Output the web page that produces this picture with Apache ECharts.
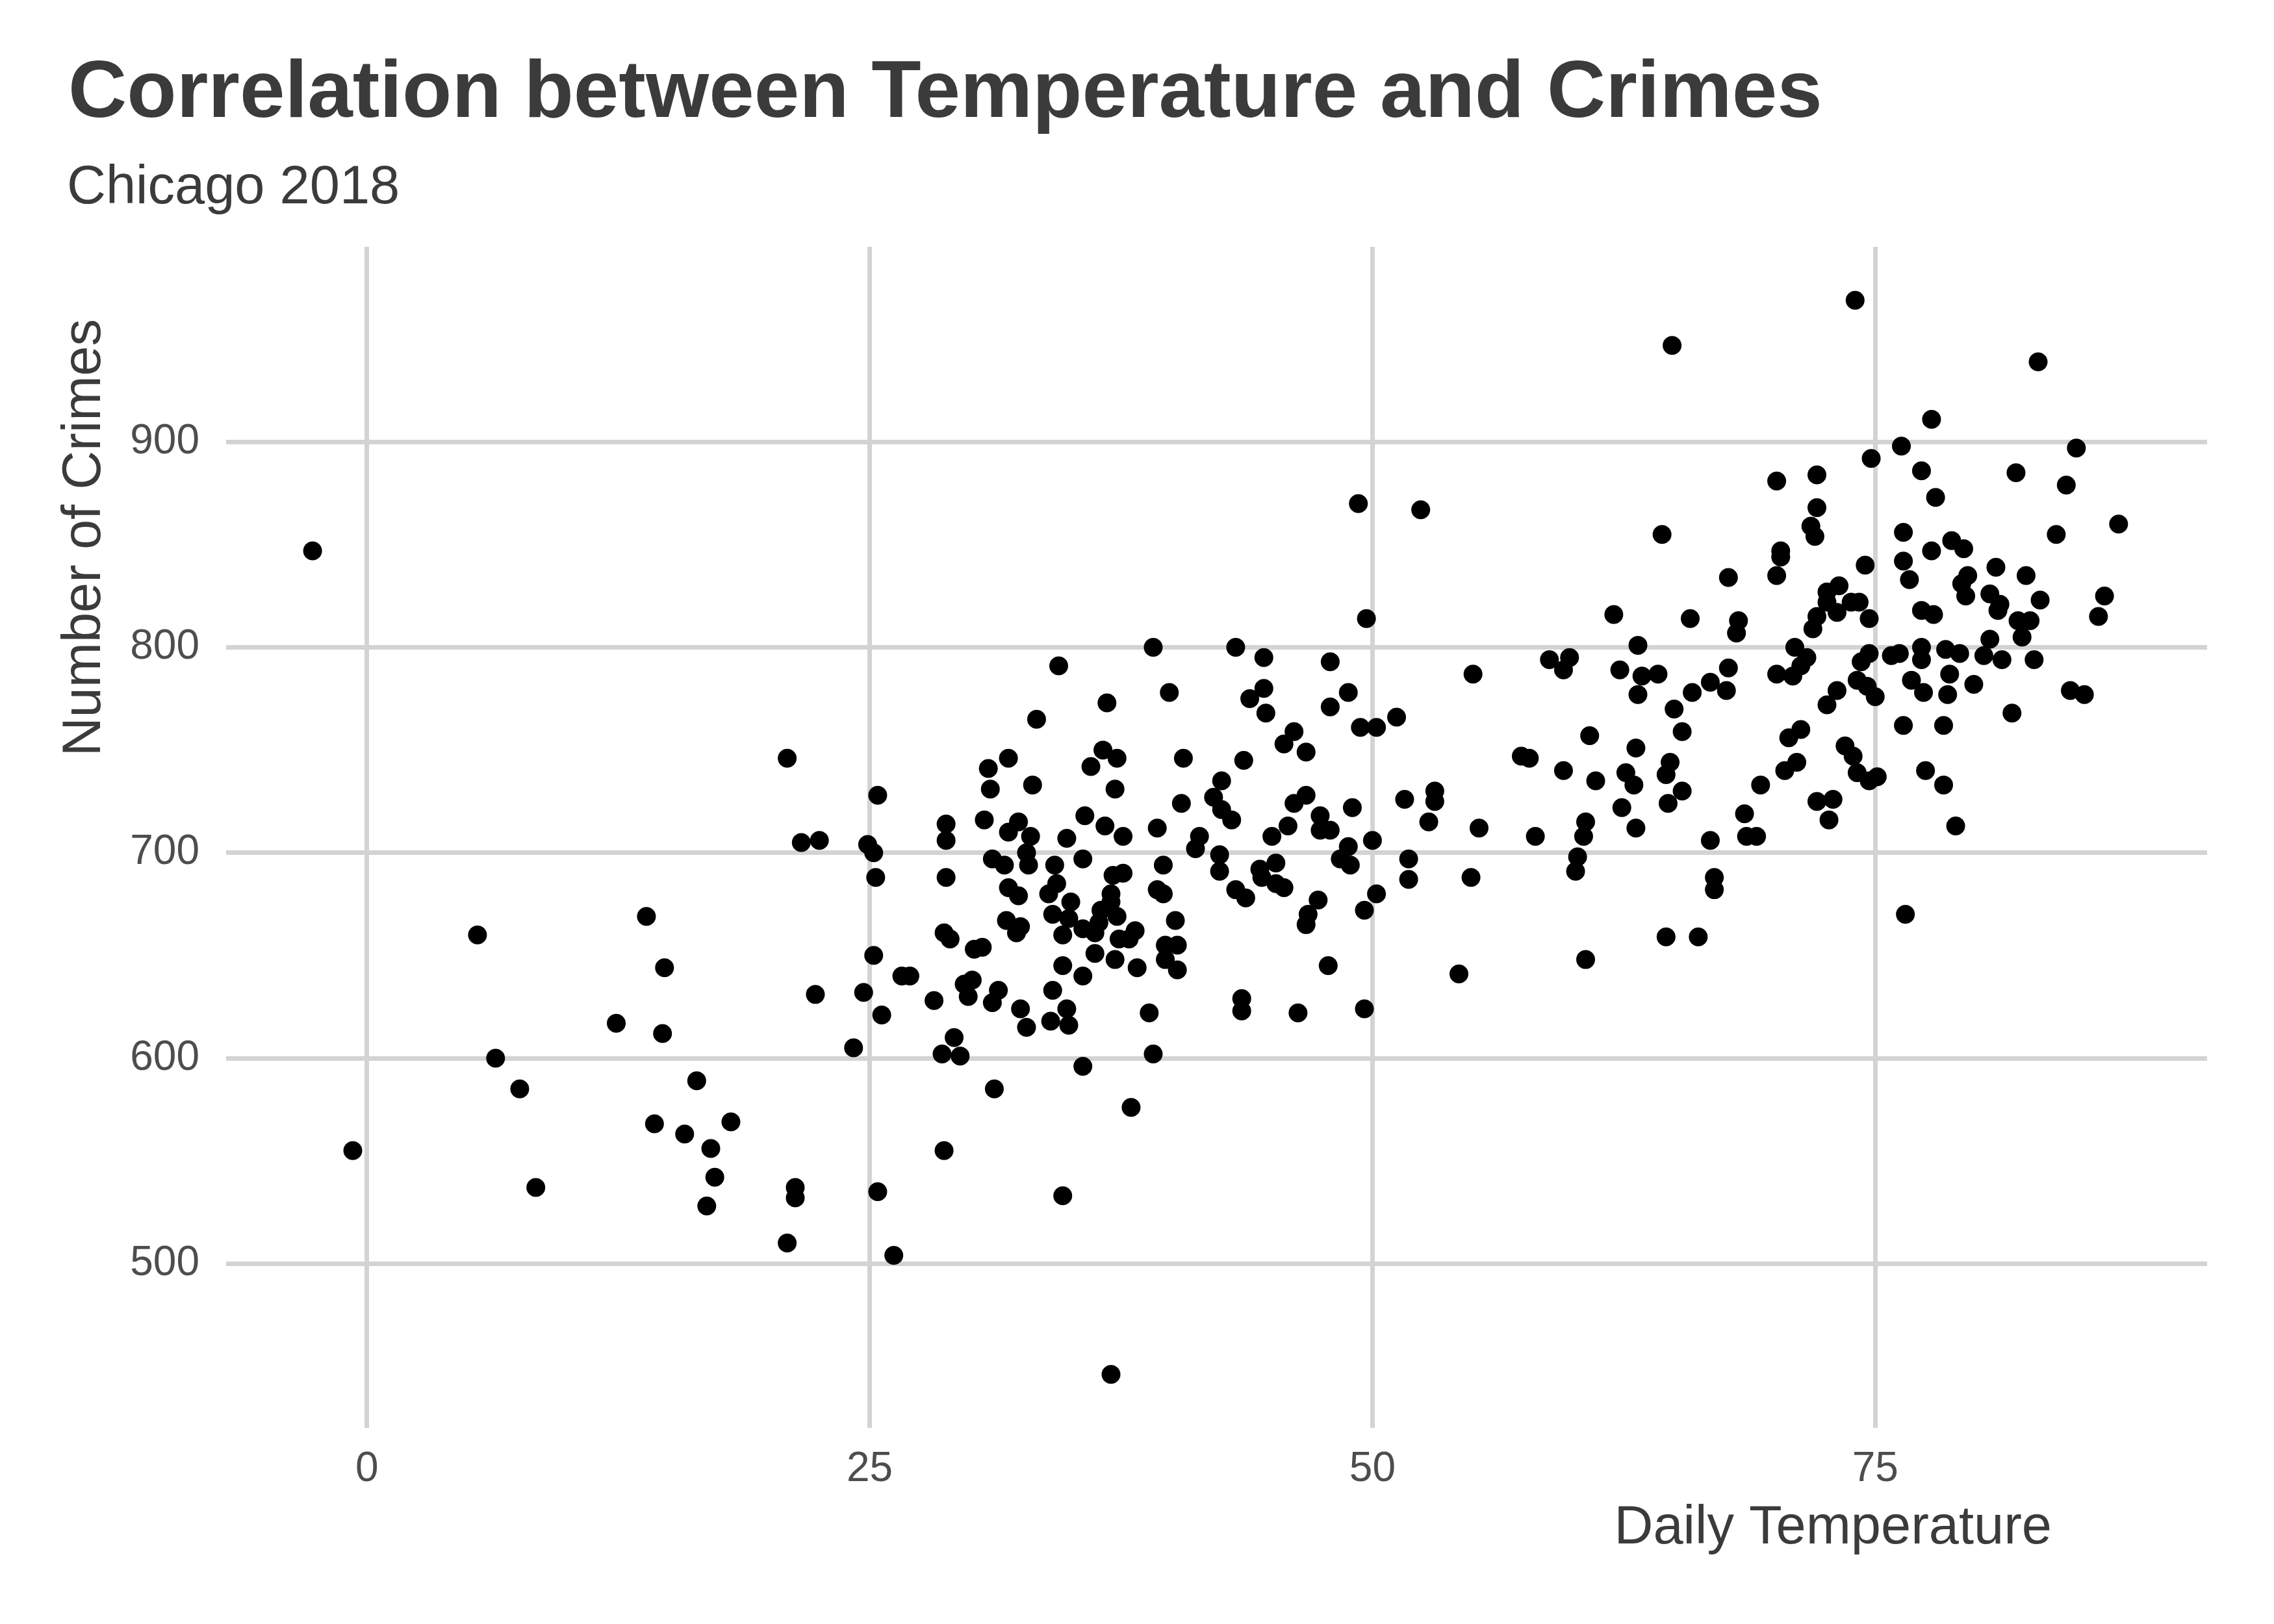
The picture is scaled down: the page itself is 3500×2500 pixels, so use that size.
<!DOCTYPE html>
<html>
<head>
<meta charset="utf-8">
<title>Correlation between Temperature and Crimes</title>
<script src="https://cdn.jsdelivr.net/npm/echarts@6/dist/echarts.min.js"></script>
<style>
    html, body { margin: 0; padding: 0; background: #fff; }
    #chart { width: 3500px; height: 2500px; }
</style>
</head>
<body>
<div id="chart"></div>
<script>
// daily temperature (x) and number of crimes (y), same index = same day
var temperature = [
    -2.7, -0.7, 5.5, 6.4, 7.6, 8.4, 12.4, 13.9, 14.3, 14.7, 14.8, 15.8, 16.4, 16.9, 17.1, 17.3, 18.1, 20.9, 20.9, 21.3, 21.3, 21.6, 22.5, 22.3,
    34.4, 33.3, 31.9, 30.9, 31.0, 33.1, 36.0, 25.4, 28.8, 28.8, 30.7, 32.4, 31.9, 33.0, 32.8, 32.9, 35.7, 34.8,
    24.9, 25.2, 25.3, 28.8, 31.1, 31.7, 34.2, 35.6, 31.9, 32.4, 34.3, 33.9, 35.0, 34.1, 34.9, 34.6, 35.6,
    31.8, 32.5, 32.3, 28.7, 29.0, 30.2, 30.6, 25.2, 34.6, 35.6, 26.6, 27.0, 24.7, 25.6, 28.2, 29.7, 30.1, 29.9, 31.4,
    31.1, 32.5, 34.1, 34.8,
    32.8, 34.0, 34.9, 24.2, 29.2, 28.6, 29.5, 35.6, 31.2, 28.7, 25.4, 34.6, 26.2, 37.0,
    49.3, 52.4, 49.7, 39.1, 43.2, 44.6, 47.9, 36.8, 39.9, 44.6, 43.9, 44.7, 47.9, 48.8, 49.4, 50.2, 51.2, 46.1, 45.6, 46.7,
    40.6, 43.6, 36.6, 37.3, 37.2, 40.5, 42.5, 42.1, 42.5, 43.0, 46.7, 46.1, 47.4, 47.4, 47.9, 49.0, 51.6, 53.1, 53.1, 52.8,
    36.7, 37.6, 39.3, 41.4, 41.2, 42.4, 42.4, 45.0, 45.8, 48.8, 48.4, 48.9, 50.0, 51.8, 51.8, 39.6, 37.6, 37.1, 44.4, 45.2,
    44.5, 45.2, 45.6, 50.2, 49.6, 47.3, 46.8, 46.7, 43.2, 43.7, 39.3, 39.6, 37.0, 37.0, 36.5, 37.3, 36.4, 36.2, 38.2, 37.9,
    37.4, 36.2, 37.2, 38.3, 40.2, 39.7, 40.3, 39.7, 40.3, 47.8, 54.3, 38.9, 43.5, 43.5, 46.3, 49.6, 39.1, 38.0,
    64.9, 70.1, 72.1, 72.1, 71.8, 72.0, 64.4, 70.3, 70.3, 70.1, 67.7, 62.0, 65.8, 68.2, 68.1, 71.9, 63.2,
    71.0, 55.0, 58.8, 59.8, 59.5, 62.3, 63.4, 64.2, 63.2, 67.7, 65.9, 66.8, 67.6, 65.0, 71.6, 70.1, 70.9, 71.3, 65.4, 60.8,
    63.1, 71.3, 70.7, 57.4, 57.8, 59.5, 61.1, 62.6, 63.0, 64.8, 64.6, 65.4, 64.7, 71.1, 70.5, 69.3, 62.4, 55.3, 58.1, 60.6,
    60.5, 63.1, 66.8, 68.5, 68.6, 69.1, 60.2, 60.1, 54.9, 67.0, 67.0, 64.6, 66.2, 60.6,
    74.0, 83.1, 77.8, 76.3, 74.8, 85.0, 77.3, 82.0, 84.5, 78.0, 87.1, 84.0, 76.4, 76.4, 77.8, 78.8, 79.4, 74.5, 76.7, 81.0,
    79.6, 79.3, 79.5, 82.5, 86.4, 86.1, 83.2, 80.7, 81.2, 81.1, 77.3, 77.9, 82.1, 82.7, 82.3, 80.7, 73.2, 72.6, 72.6, 73.8,
    74.2, 73.1, 72.1, 74.7, 82.9, 74.7, 74.3, 75.8, 76.2, 77.3, 77.3, 78.5, 79.2, 80.4, 81.3, 78.7, 79.9, 78.6, 76.8, 77.4,
    74.1, 74.6, 75.0, 73.1, 72.6, 84.7, 85.4, 81.8, 76.4, 78.4, 73.5, 73.9, 74.1, 74.7, 75.1, 77.5, 78.4, 72.1, 72.9, 72.7,
    79.0, 76.5
];
var crimes = [
    847, 555, 660, 600, 585, 537, 617, 669, 568, 612, 644, 563, 589, 528, 556, 542, 569, 746, 510, 537, 532, 705, 706, 631,
    791, 765, 746, 741, 731, 733, 742, 728, 714, 706, 716, 715, 710, 708, 700, 694, 718, 707,
    704, 700, 688, 688, 697, 694, 694, 697, 683, 679, 685, 680, 676, 670, 668, 660, 663,
    667, 664, 661, 661, 658, 653, 654, 650, 645, 640, 640, 640, 632, 621, 628, 636, 638, 630, 633,
    627, 624, 633, 624,
    615, 618, 616, 605, 610, 602, 601, 596, 585, 555, 535, 533, 504, 446,
    870, 867, 814, 800, 800, 795, 793, 773, 778, 780, 775, 768, 771, 778, 761, 761, 766, 759, 753, 749,
    746, 745, 750, 746, 731, 724, 735, 727, 721, 716, 728, 724, 718, 711, 711, 722, 726, 730, 725, 715,
    713, 708, 712, 708, 702, 699, 691, 708, 713, 703, 697, 694, 706, 697, 687, 694, 690, 689, 692, 695,
    688, 685, 683, 680, 672, 677, 670, 665, 682, 678, 682, 680, 680, 676, 672, 669, 666, 661, 662, 658,
    658, 651, 648, 644, 667, 655, 655, 648, 643, 645, 641, 622, 629, 623, 622, 624, 602, 576,
    947, 881, 884, 868, 859, 854, 855, 847, 844, 835, 834, 816, 814, 813, 807, 809, 801,
    800, 787, 794, 795, 789, 789, 786, 787, 777, 790, 778, 783, 779, 770, 795, 787, 786, 791, 759, 757,
    751, 760, 756, 747, 746, 740, 735, 739, 733, 744, 738, 730, 724, 744, 740, 733, 722, 712, 708, 715,
    708, 712, 706, 719, 708, 708, 698, 691, 688, 688, 682, 659, 659, 648,
    969, 939, 911, 898, 892, 897, 886, 885, 879, 873, 860, 855, 856, 842, 847, 852, 848, 840, 833, 839,
    835, 831, 825, 835, 825, 815, 823, 826, 821, 818, 818, 816, 813, 813, 805, 804, 830, 827, 822, 822,
    822, 817, 815, 814, 794, 797, 793, 796, 797, 800, 794, 799, 797, 796, 794, 787, 782, 777, 784, 778,
    784, 781, 776, 779, 772, 779, 777, 768, 762, 762, 752, 747, 739, 735, 737, 740, 733, 725, 726, 716,
    713, 670
];
var xTicks = [0, 25, 50, 75];
var yTicks = [500, 600, 700, 800, 900];

var TEXT = '#3b3b3b', LABEL = '#4d4d4d', GRID = '#d3d3d3';
var FONT = '"Liberation Sans", Arial, sans-serif';

var points = [];
for (var i = 0; i < temperature.length; i++) {
    points.push([temperature[i], crimes[i]]);
}

var chart = echarts.init(document.getElementById('chart'));

chart.setOption({
    animation: false,
    backgroundColor: '#ffffff',
    grid: {
        left: 348, right: 103, top: 380, bottom: 302,
        containLabel: false,
        outerBoundsMode: 'none'
    },
    xAxis: {
        type: 'value',
        min: -7, max: 91.5,
        axisLine: { show: false },
        axisTick: { show: false, customValues: xTicks },
        axisLabel: {
            customValues: xTicks,
            margin: 32,
            fontSize: 64,
            fontFamily: FONT,
            color: LABEL
        },
        splitLine: { show: true, lineStyle: { color: GRID, width: 7 } }
    },
    yAxis: {
        type: 'value',
        min: 420, max: 995,
        axisLine: { show: false },
        axisTick: { show: false, customValues: yTicks },
        axisLabel: {
            customValues: yTicks,
            margin: 41,
            fontSize: 64,
            fontFamily: FONT,
            color: LABEL
        },
        splitLine: { show: true, lineStyle: { color: GRID, width: 7 } }
    },
    graphic: [
        {   // title
            type: 'text', x: 105, y: 146,
            style: {
                text: 'Correlation between Temperature and Crimes',
                font: 'bold 125px ' + FONT, fill: TEXT,
                align: 'left', verticalAlign: 'middle',
                textAlign: 'left', textVerticalAlign: 'middle'
            }
        },
        {   // subtitle
            type: 'text', x: 103, y: 290,
            style: {
                text: 'Chicago 2018',
                font: '83px ' + FONT, fill: TEXT,
                align: 'left', verticalAlign: 'middle',
                textAlign: 'left', textVerticalAlign: 'middle'
            }
        },
        {   // x axis title, right aligned
            type: 'text', x: 3158, y: 2353,
            style: {
                text: 'Daily Temperature',
                font: '83px ' + FONT, fill: TEXT,
                align: 'right', verticalAlign: 'middle',
                textAlign: 'right', textVerticalAlign: 'middle'
            }
        },
        {   // y axis title, rotated, ends at the top
            type: 'text', x: 131, y: 491, rotation: Math.PI / 2,
            style: {
                text: 'Number of Crimes',
                font: '83px ' + FONT, fill: TEXT,
                align: 'right', verticalAlign: 'middle',
                textAlign: 'right', textVerticalAlign: 'middle'
            }
        }
    ],
    series: [{
        type: 'scatter',
        data: points,
        symbol: 'circle',
        symbolSize: 29,
        itemStyle: { color: '#000000', opacity: 1 },
        emphasis: { disabled: true }
    }]
});
</script>
</body>
</html>
